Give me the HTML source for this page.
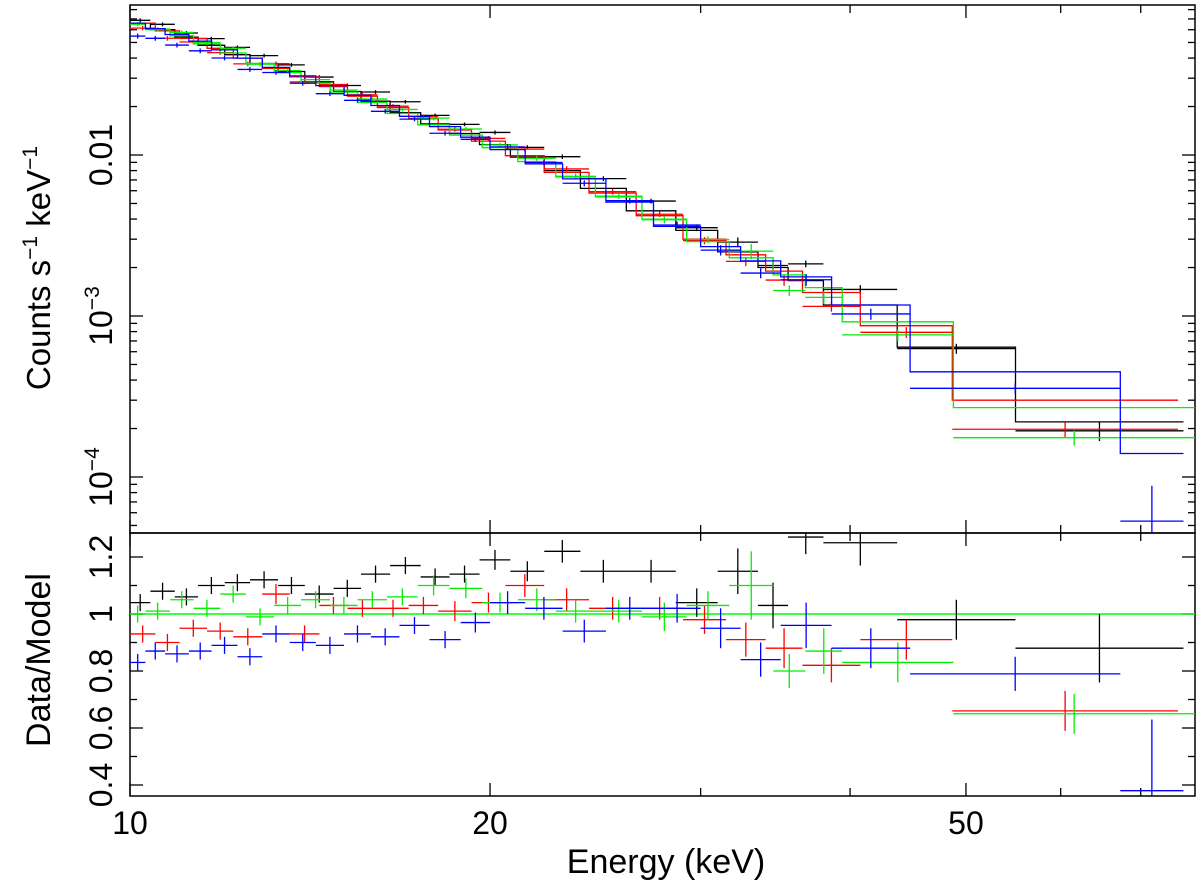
<!DOCTYPE html>
<html><head><meta charset="utf-8"><style>
html,body{margin:0;padding:0;background:#fff}
svg{display:block}
text{font-family:"Liberation Sans",sans-serif;fill:#000}
</style></head><body>
<svg id="chart" width="1200" height="896" viewBox="0 0 1200 896" xmlns="http://www.w3.org/2000/svg">
<defs>
<clipPath id="clipTop"><rect x="130" y="5" width="1065" height="528"/></clipPath>
<clipPath id="clipBot"><rect x="130" y="533" width="1065" height="263"/></clipPath>
</defs>
<g id="axes"></g>
<g id="topMarks" clip-path="url(#clipTop)"></g>
<g id="botMarks" clip-path="url(#clipBot)"></g>
<text transform="translate(50,268) rotate(-90)" text-anchor="middle" font-size="33">Counts s<tspan font-size="21" dy="-13">−1</tspan><tspan dy="13"> keV</tspan><tspan font-size="21" dy="-13">−1</tspan></text>
<text transform="translate(50,660) rotate(-90)" text-anchor="middle" font-size="34">Data/Model</text>
<text x="666" y="873" text-anchor="middle" font-size="34">Energy (keV)</text>
</svg>
<script>
// ---- data ----
const blackEdges=[10,10.4,10.9,11.4,12,12.6,13.3,14,14.8,15.6,16.5,17.5,18.5,19.6,20.8,22.2,23.8,26,28.6,31,33.5,35.5,38,43.8,55,76];
const blackModel=[0.066,0.060,0.054,0.048,0.042,0.037,0.033,0.0285,0.0248,0.0216,0.0183,0.0156,0.0136,0.0116,0.0097,0.0080,0.0062,0.0045,0.0034,0.0025,0.0020,0.00166,0.00117,0.00064,0.00022];
const blackRatio=[1.04,1.08,1.06,1.10,1.11,1.12,1.10,1.07,1.09,1.14,1.17,1.13,1.14,1.19,1.15,1.22,1.15,1.15,1.04,1.15,1.03,1.27,1.25,0.98,0.88];
const blackErr=[0.03,0.03,0.03,0.03,0.03,0.03,0.03,0.03,0.03,0.03,0.03,0.03,0.03,0.035,0.035,0.04,0.04,0.04,0.05,0.08,0.08,0.06,0.08,0.07,0.12];

const redEdges=[10,10.5,11,11.6,12.2,12.9,13.6,14.4,15.2,16.1,17.1,18.1,19.3,20.6,22.2,24.2,26.5,29,31.5,34,36.5,40.8,48.7,75.2];
const redModel=[0.066,0.059,0.053,0.046,0.040,0.0345,0.0306,0.0266,0.0232,0.0197,0.0168,0.0143,0.0122,0.0099,0.0078,0.0058,0.0042,0.0030,0.0024,0.0019,0.0014,0.00087,0.00030];
const redRatio=[0.93,0.90,0.95,0.94,0.92,1.07,0.93,1.03,1.02,1.02,1.03,1.01,1.04,1.10,1.05,1.02,1.02,0.98,0.91,0.88,0.82,0.91,0.66];
const redErr=[0.03,0.03,0.03,0.03,0.03,0.035,0.03,0.03,0.03,0.03,0.03,0.035,0.035,0.04,0.04,0.04,0.04,0.05,0.06,0.07,0.06,0.07,0.07];

const greenEdges=[10,10.3,10.8,11.3,11.9,12.5,13.2,13.9,14.7,15.5,16.4,17.4,18.5,19.7,21.1,22.7,24.5,26.8,29.2,31.7,34.5,36.7,39.4,48.8,77.7];
const greenModel=[0.065,0.060,0.055,0.049,0.043,0.037,0.0325,0.028,0.0246,0.0212,0.0181,0.0154,0.0133,0.0111,0.0091,0.0073,0.0055,0.0040,0.0029,0.0023,0.0018,0.0015,0.00092,0.00027];
const greenRatio=[1.00,1.01,1.05,1.02,1.07,0.99,1.03,1.05,1.03,1.05,1.06,1.10,1.09,1.04,1.05,1.01,1.01,0.99,1.03,1.10,0.80,0.87,0.83,0.65];
const greenErr=[0.03,0.03,0.03,0.03,0.03,0.03,0.03,0.03,0.03,0.03,0.03,0.035,0.035,0.035,0.04,0.04,0.04,0.05,0.05,0.12,0.06,0.08,0.07,0.07];

const blueEdges=[10,10.3,10.7,11.2,11.7,12.3,12.9,13.6,14.3,15.1,15.9,16.8,17.8,18.9,20,21.4,23,25,27.4,30,32.4,35,38.6,44.9,67.3,76];
const blueModel=[0.066,0.061,0.056,0.051,0.045,0.040,0.035,0.031,0.027,0.0235,0.0203,0.0174,0.0150,0.0129,0.0108,0.0088,0.0071,0.0051,0.0036,0.0027,0.0022,0.00175,0.00117,0.00045,0.00014];
const blueRatio=[0.83,0.87,0.86,0.87,0.89,0.85,0.93,0.90,0.89,0.93,0.92,0.96,0.91,0.97,1.04,1.02,0.94,1.02,1.02,0.95,0.84,0.96,0.88,0.79,0.38];
const blueErr=[0.03,0.03,0.03,0.03,0.03,0.03,0.03,0.03,0.03,0.03,0.03,0.03,0.03,0.035,0.04,0.04,0.04,0.04,0.05,0.07,0.06,0.08,0.07,0.06,0.25];

const xTickMajor=[10,20,50];
const xTickMinor=[30,40,60,70];
const yTopMajor=[0.01,0.001,0.0001];
const yTopMajorLabels=["0.01","10|−3","10|−4"];
const yBotMajor=[0.4,0.6,0.8,1,1.2];
const yBotMajorLabels=["0.4","0.6","0.8","1","1.2"];

// ---- axes ----
const X0=130,X1=1195,XPD=1196;
const xs=e=>X0+Math.log10(e/10)*XPD;
const yTop=v=>155-(Math.log10(v)+2)*161;
const yBot=r=>614-(r-1)*285;
const TT=5,TB=533,BB=796;
const NS="http://www.w3.org/2000/svg";
function mk(tag,attrs,parent){const el=document.createElementNS(NS,tag);for(const k in attrs)el.setAttribute(k,attrs[k]);parent.appendChild(el);return el;}
const axes=document.getElementById('axes');
const topG=document.getElementById('topMarks');
const botG=document.getElementById('botMarks');

let f1=mk('rect',{x:X0,y:TT,width:X1-X0,height:TB-TT,fill:'none',stroke:'#000','stroke-width':1.5},axes);


let f2=mk('rect',{x:X0,y:TB,width:X1-X0,height:BB-TB,fill:'none',stroke:'#000','stroke-width':1.5},axes);



function tick(x1,y1,x2,y2){const t=mk('line',{x1,y1,x2,y2,stroke:'#000','stroke-width':1.3},axes);

}

const xAll=xTickMajor.map(v=>[v,13]).concat(xTickMinor.map(v=>[v,8]));
xAll.forEach(([v,L])=>{const x=xs(v);
 tick(x,TT,x,TT+L);tick(x,TB,x,TB-L);tick(x,TB,x,TB+L);tick(x,BB,x,BB-L);});
xTickMajor.forEach(v=>{const t=mk('text',{x:xs(v),y:834,'text-anchor':'middle','font-size':32},axes);t.textContent=String(v);

});

for(let d=-5;d<=-1;d++){for(let m=1;m<=9;m++){const v=m*Math.pow(10,d);const y=yTop(v);if(y<TT||y>TB)continue;const L=m===1?13:7;
 tick(X0,y,X0+L,y);tick(X1,y,X1-L,y);}}
yTopMajor.forEach((v,i)=>{const y=yTop(v);const parts=yTopMajorLabels[i].split('|');
 const t=mk('text',{transform:`translate(112,${y}) rotate(-90)`,'text-anchor':'middle','font-size':32},axes);
 
 
 if(parts.length===1)t.textContent=parts[0];else{t.textContent=parts[0];const s=mk('tspan',{'font-size':21,dy:-13},t);s.textContent=parts[1];}
});
for(let k=4;k<=12;k++){const r=k/10;const y=yBot(r);const L=(k%2===0)?13:7;tick(X0,y,X0+L,y);tick(X1,y,X1-L,y);}
yBotMajor.forEach((v,i)=>{const y=yBot(v);const t=mk('text',{transform:`translate(112,${y}) rotate(-90)`,'text-anchor':'middle','font-size':32},axes);t.textContent=yBotMajorLabels[i];

});

let ref=mk('line',{x1:X0,x2:X1,y1:yBot(1),y2:yBot(1),stroke:'#00ff00','stroke-width':1.4},botG);



const sets=[
 {name:'black',c:'#000000',E:blackEdges,M:blackModel,R:blackRatio,Er:blackErr},
 {name:'red',c:'#ff0000',E:redEdges,M:redModel,R:redRatio,Er:redErr},
 {name:'green',c:'#00ee00',E:greenEdges,M:greenModel,R:greenRatio,Er:greenErr},
 {name:'blue',c:'#0000ff',E:blueEdges,M:blueModel,R:blueRatio,Er:blueErr}];
sets.forEach(s=>{
 let d='';s.M.forEach((m,i)=>{const xa=xs(s.E[i]),xb=xs(s.E[i+1]),y=yTop(m);d+=(i===0?'M':'L')+xa.toFixed(1)+','+y.toFixed(1)+'L'+xb.toFixed(1)+','+y.toFixed(1);});
 const p=mk('path',{d,fill:'none',stroke:s.c,'stroke-width':1.3},topG);
 
 
 s.M.forEach((m,i)=>{const xa=xs(s.E[i]),xb=xs(s.E[i+1]),xc=xs(Math.sqrt(s.E[i]*s.E[i+1]));
  const dv=m*s.R[i],ev=m*s.Er[i];
  const g=mk('g',{stroke:s.c,'stroke-width':1.3},topG);
  
  
  mk('line',{x1:xa,x2:xb,y1:yTop(dv),y2:yTop(dv)},g);
  mk('line',{x1:xc,x2:xc,y1:yTop(Math.max(dv-ev,1e-6)),y2:yTop(dv+ev)},g);
  const g2=mk('g',{stroke:s.c,'stroke-width':1.3},botG);
  
  
  const r=s.R[i],e=s.Er[i];
  mk('line',{x1:xa,x2:xb,y1:yBot(r),y2:yBot(r)},g2);
  mk('line',{x1:xc,x2:xc,y1:yBot(r-e),y2:yBot(r+e)},g2);
 });
});
</script>
</body></html>
